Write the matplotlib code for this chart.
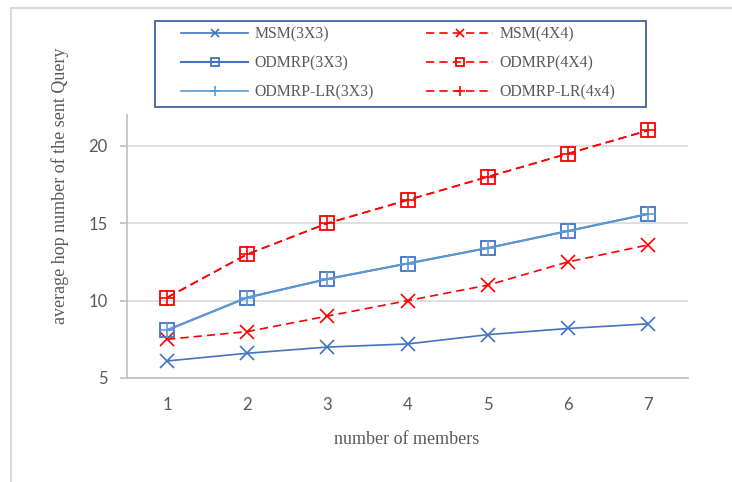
import matplotlib
matplotlib.use("Agg")
import matplotlib.pyplot as plt
from matplotlib.lines import Line2D
from matplotlib.patches import Rectangle

members = [1, 2, 3, 4, 5, 6, 7]
msm_3x3 = [6.1, 6.6, 7.0, 7.2, 7.8, 8.2, 8.5]
msm_4x4 = [7.5, 8.0, 9.0, 10.0, 11.0, 12.5, 13.6]
odmrp_3x3 = [8.1, 10.2, 11.4, 12.4, 13.4, 14.5, 15.6]
odmrp_4x4 = [10.2, 13.0, 15.0, 16.5, 18.0, 19.5, 21.0]
odmrp_lr_3x3 = [8.1, 10.2, 11.4, 12.4, 13.4, 14.5, 15.6]
odmrp_lr_4x4 = [10.2, 13.0, 15.0, 16.5, 18.0, 19.5, 21.0]
yticks = [5, 10, 15, 20]

W, H = 732, 482
fig = plt.figure(figsize=(W / 100, H / 100), dpi=100)
ax = fig.add_axes([127 / W, 1 - 378 / H, (688 - 127) / W, (378 - 115) / H])

blue = "#4472C4"
lblue = "#5B9BD5"
red = "#FF0000"
dash = (0, (5, 3))

h1, = ax.plot(members, msm_3x3, color=blue, lw=1.2, marker="x", ms=10, mew=1.2, label="MSM(3X3)")
h2, = ax.plot(members, msm_4x4, color=red, lw=1.2, ls=dash, marker="x", ms=10, mew=1.2, label="MSM(4X4)")
h3, = ax.plot(members, odmrp_3x3, color=blue, lw=1.5, marker="s", ms=10, mew=1.3,
              fillstyle="none", label="ODMRP(3X3)")
h4, = ax.plot(members, odmrp_4x4, color=red, lw=1.2, ls=dash, marker="s", ms=10, mew=1.3,
              fillstyle="none", label="ODMRP(4X4)")
h5, = ax.plot(members, odmrp_lr_3x3, color=lblue, lw=1.2, marker="+", ms=11, mew=1.2,
              label="ODMRP-LR(3X3)")
h6, = ax.plot(members, odmrp_lr_4x4, color=red, lw=1.2, ls=dash, marker="+", ms=11, mew=1.2,
              label="ODMRP-LR(4x4)")

ax.set_xlim(0.5, 7.5)
ax.set_ylim(5, 22)
ax.set_yticks(yticks)
ax.set_xticks(members)
ax.grid(axis="y", color="#D9D9D9", lw=1.2)
ax.set_axisbelow(True)
for s in ["top", "right"]:
    ax.spines[s].set_visible(False)
ax.spines["left"].set_color("#BFBFBF")
ax.spines["left"].set_linewidth(1.2)
ax.spines["bottom"].set_color("#BFBFBF")
ax.spines["bottom"].set_linewidth(1.2)
ax.tick_params(axis="y", length=5, color="#BFBFBF", width=1.2, labelsize=12,
               labelcolor="#595959", pad=9)
ax.tick_params(axis="x", length=0, labelsize=12, labelcolor="#595959", pad=14)
for lab in ax.get_xticklabels() + ax.get_yticklabels():
    lab.set_fontfamily("Lato")

fig.text(407 / W, 1 - 440 / H, "number of members", ha="center", va="center",
         fontfamily="Liberation Serif", fontsize=13, color="#595959")
fig.text(60 / W, 1 - 186 / H, "average hop number of the sent Query", rotation=90,
         ha="center", va="center", fontfamily="Liberation Serif", fontsize=13,
         color="#595959")

leg = fig.legend(handles=[h1, h3, h5, h2, h4, h6], ncol=2,
                 loc="upper left", bbox_to_anchor=(181 / W, 1 - 26 / H),
                 prop={"family": "Liberation Serif", "size": 11.3},
                 handlelength=4.3, handletextpad=0.4, columnspacing=3.3,
                 labelspacing=0.85, borderpad=0, borderaxespad=0, frameon=False,
                 markerscale=0.6)
for t in leg.get_texts():
    t.set_color("#595959")
fig.add_artist(Rectangle((155 / W, 1 - 107 / H), (646 - 155) / W, (107 - 21) / H,
                         transform=fig.transFigure, fill=False, edgecolor="#2F5597",
                         lw=1.2))

# outer frame fragments
fig.add_artist(Line2D([11 / W, 11 / W], [0, 1 - 8 / H], color="#D9D9D9", lw=1.5,
                      transform=fig.transFigure))
fig.add_artist(Line2D([11 / W, 1], [1 - 8 / H, 1 - 8 / H], color="#D9D9D9", lw=1.5,
                      transform=fig.transFigure))

fig.savefig("out.png", dpi=100, facecolor="white")
